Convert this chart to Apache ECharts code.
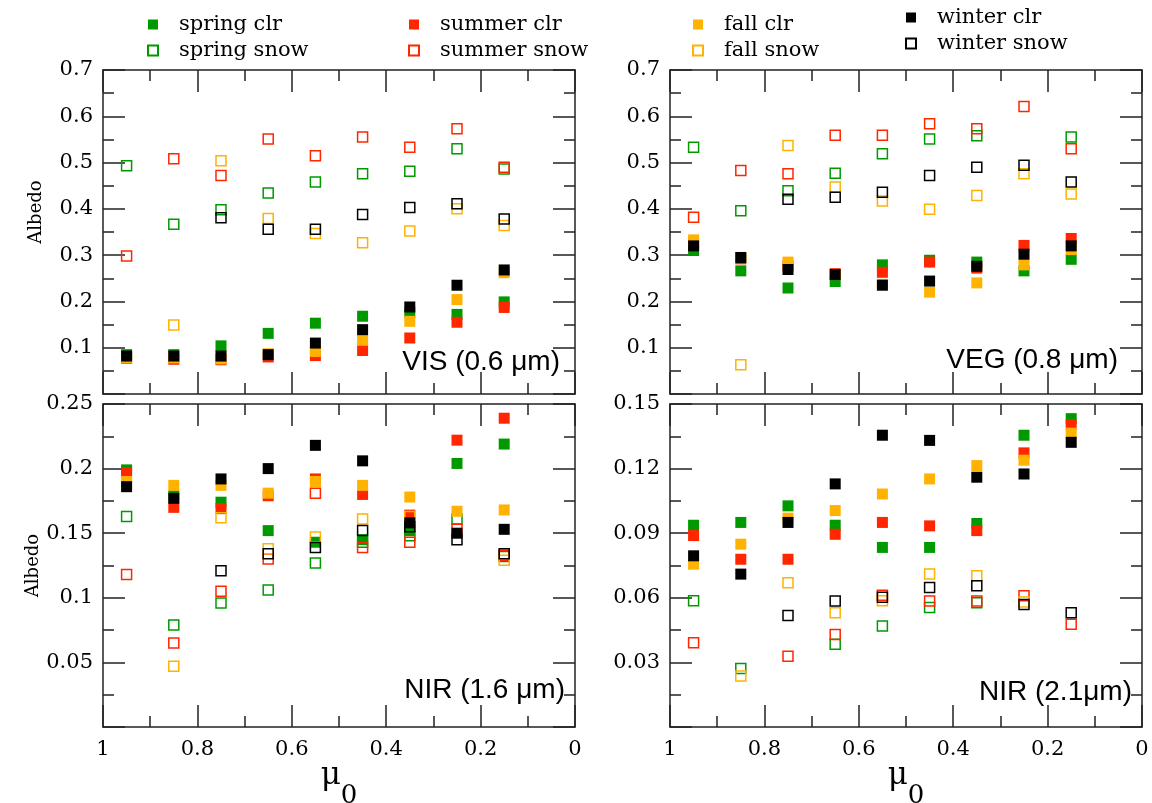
<!DOCTYPE html>
<html>
<head>
<meta charset="utf-8">
<title>Albedo vs mu0</title>
<script src="https://cdn.jsdelivr.net/npm/echarts@6.0.0/dist/echarts.min.js"></script>
<style>
html,body{margin:0;padding:0;background:#fff}
#main{width:1152px;height:803px}
</style>
</head>
<body>
<div id="main"></div>
<script>
// cosine of solar zenith angle, one value per bin
var mu = [0.95, 0.85, 0.75, 0.65, 0.55, 0.45, 0.35, 0.25, 0.15];

// VIS (0.6 um)
var vis_spring_clr  = [0.085, 0.085, 0.104, 0.131, 0.153, 0.168, 0.176, 0.172, 0.199];
var vis_spring_snow = [0.493, 0.367, 0.398, 0.434, 0.458, 0.476, 0.481, 0.530, 0.486];
var vis_summer_clr  = [0.077, 0.075, 0.074, 0.080, 0.083, 0.094, 0.121, 0.155, 0.187];
var vis_summer_snow = [0.298, 0.508, 0.472, 0.551, 0.515, 0.555, 0.533, 0.573, 0.490];
var vis_fall_clr    = [0.078, 0.078, 0.076, 0.087, 0.092, 0.116, 0.157, 0.204, 0.262];
var vis_fall_snow   = [null, 0.149, 0.504, 0.379, 0.347, 0.327, 0.352, 0.400, 0.364];
var vis_winter_clr  = [0.082, 0.082, 0.082, 0.085, 0.110, 0.139, 0.188, 0.235, 0.268];
var vis_winter_snow = [null, null, 0.381, 0.356, 0.356, 0.388, 0.403, 0.411, 0.378];

// VEG (0.8 um)
var veg_spring_clr  = [0.310, 0.266, 0.229, 0.243, 0.279, 0.289, 0.285, 0.266, 0.291];
var veg_spring_snow = [0.533, 0.396, 0.439, 0.477, 0.519, 0.551, 0.558, null, 0.555];
var veg_summer_clr  = [0.326, 0.292, 0.277, 0.260, 0.263, 0.285, 0.272, 0.321, 0.336];
var veg_summer_snow = [0.382, 0.483, 0.476, 0.559, 0.559, 0.584, 0.573, 0.621, 0.530];
var veg_fall_clr    = [0.333, 0.295, 0.285, 0.258, 0.237, 0.220, 0.240, 0.279, 0.312];
var veg_fall_snow   = [null, 0.063, 0.537, 0.447, 0.417, 0.399, 0.429, 0.476, 0.432];
var veg_winter_clr  = [0.320, 0.295, 0.269, 0.258, 0.235, 0.244, 0.276, 0.302, 0.320];
var veg_winter_snow = [null, null, 0.421, 0.425, 0.436, 0.472, 0.490, 0.494, 0.458];

// NIR (1.6 um)
var nir16_spring_clr  = [0.199, 0.179, 0.174, 0.152, 0.143, 0.145, 0.152, 0.204, 0.219];
var nir16_spring_snow = [0.163, 0.079, 0.096, 0.106, 0.127, 0.143, 0.148, 0.161, 0.132];
var nir16_summer_clr  = [0.197, 0.170, 0.169, 0.179, 0.192, 0.180, 0.164, 0.222, 0.239];
var nir16_summer_snow = [0.118, 0.065, 0.105, 0.130, 0.181, 0.139, 0.143, 0.153, 0.133];
var nir16_fall_clr    = [0.190, 0.187, 0.187, 0.181, 0.190, 0.187, 0.178, 0.167, 0.168];
var nir16_fall_snow   = [null, 0.047, 0.162, 0.138, 0.147, 0.161, 0.163, null, 0.129];
var nir16_winter_clr  = [0.186, 0.177, 0.192, 0.200, 0.218, 0.206, 0.158, 0.150, 0.153];
var nir16_winter_snow = [null, null, 0.121, 0.134, 0.139, 0.152, 0.155, 0.145, 0.134];

// NIR (2.1 um)
var nir21_spring_clr  = [0.0937, 0.0950, 0.1027, 0.0937, 0.0834, 0.0834, 0.0945, 0.1355, 0.1432];
var nir21_spring_snow = [0.0586, 0.0272, null, 0.0384, 0.0469, 0.0555, 0.0577, null, null];
var nir21_summer_clr  = [0.0889, 0.0779, 0.0779, 0.0895, 0.0950, 0.0934, 0.0912, 0.1273, 0.1404];
var nir21_summer_snow = [0.0391, null, 0.0328, 0.0430, 0.0612, 0.0585, 0.0585, 0.0609, 0.0477];
var nir21_fall_clr    = [0.0756, 0.0849, 0.0970, 0.1005, 0.1082, 0.1152, 0.1214, 0.1239, 0.1365];
var nir21_fall_snow   = [null, 0.0237, 0.0670, 0.0530, 0.0586, 0.0710, 0.0702, 0.0580, null];
var nir21_winter_clr  = [0.0795, 0.0710, 0.0950, 0.1129, 0.1355, 0.1331, 0.1160, 0.1175, 0.1322];
var nir21_winter_snow = [null, null, 0.0518, 0.0585, 0.0602, 0.0648, 0.0656, 0.0569, 0.0531];

var seriesNames = ['spring clr', 'spring snow', 'summer clr', 'summer snow',
                   'fall clr', 'fall snow', 'winter clr', 'winter snow'];
var seasonColors = ['#009a00', '#ff2600', '#ffb300', '#000000'];
var panelLabels = ['VIS (0.6 \u03bcm)', 'VEG (0.8 \u03bcm)', 'NIR (1.6 \u03bcm)', 'NIR (2.1\u03bcm)'];
var yMax = [0.7, 0.7, 0.25, 0.15];
var yStep = [0.1, 0.1, 0.05, 0.03];

var panelData = [
    [vis_spring_clr, vis_spring_snow, vis_summer_clr, vis_summer_snow, vis_fall_clr, vis_fall_snow, vis_winter_clr, vis_winter_snow],
    [veg_spring_clr, veg_spring_snow, veg_summer_clr, veg_summer_snow, veg_fall_clr, veg_fall_snow, veg_winter_clr, veg_winter_snow],
    [nir16_spring_clr, nir16_spring_snow, nir16_summer_clr, nir16_summer_snow, nir16_fall_clr, nir16_fall_snow, nir16_winter_clr, nir16_winter_snow],
    [nir21_spring_clr, nir21_spring_snow, nir21_summer_clr, nir21_summer_snow, nir21_fall_clr, nir21_fall_snow, nir21_winter_clr, nir21_winter_snow]
];

var grids = [
    {left: 103, top: 70,  width: 472, height: 324},
    {left: 670, top: 70,  width: 472, height: 324},
    {left: 103, top: 404, width: 472, height: 323},
    {left: 670, top: 404, width: 472, height: 323}
];

var lineCol = '#222';
var serif = 'DejaVu Serif';

function xAxisOf(g, pos) {
    var withLabels = (pos === 'bottom' && g >= 2);
    return {
        type: 'value', gridIndex: g, position: pos,
        min: 0, max: 1, interval: 0.2, inverse: true,
        axisLine: {show: true, onZero: false, lineStyle: {color: lineCol, width: 1.5}},
        axisTick: {show: true, inside: true, length: 22, lineStyle: {color: lineCol, width: 1.5}},
        minorTick: {show: true, splitNumber: 2, length: 11, lineStyle: {color: lineCol, width: 1.5}},
        splitLine: {show: false},
        minorSplitLine: {show: false},
        axisLabel: {show: withLabels, margin: 12, color: '#000', fontFamily: serif, fontSize: 21},
        name: withLabels ? '{m|\u03bc}{s|0}' : '',
        nameLocation: 'middle',
        nameGap: 8,
        nameTextStyle: {
            rich: {
                m: {fontFamily: serif, fontSize: 31, color: '#000'},
                s: {fontFamily: serif, fontSize: 26, color: '#000', padding: [40, 0, 0, 0]}
            }
        }
    };
}

function yAxisOf(g, pos) {
    var left = pos === 'left';
    var ax = {
        type: 'value', gridIndex: g, position: pos,
        min: 0, max: yMax[g], interval: yStep[g],
        axisLine: {show: true, onZero: false, lineStyle: {color: lineCol, width: 1.5}},
        axisTick: {show: true, inside: true, length: 22, lineStyle: {color: lineCol, width: 1.5}},
        minorTick: {show: true, splitNumber: 2, length: 11, lineStyle: {color: lineCol, width: 1.5}},
        splitLine: {show: false},
        minorSplitLine: {show: false},
        axisLabel: {show: left, showMinLabel: false, margin: 10, color: '#000', fontFamily: serif, fontSize: 21}
    };
    if (left && (g === 0 || g === 2)) {
        ax.name = 'Albedo';
        ax.nameLocation = 'middle';
        ax.nameRotate = 90;
        ax.nameGap = 58;
        ax.nameTextStyle = {fontFamily: serif, fontSize: 18, color: '#000',
            padding: g === 0 ? [0, 0, 0, 40] : [0, 0, 0, 0]};
    }
    return ax;
}

var xAxes = [], yAxes = [], series = [], graphics = [];
for (var g = 0; g < 4; g++) {
    xAxes.push(xAxisOf(g, 'bottom'));
    xAxes.push(xAxisOf(g, 'top'));
    yAxes.push(yAxisOf(g, 'left'));
    yAxes.push(yAxisOf(g, 'right'));
    for (var k = 0; k < 8; k++) {
        var hollow = (k % 2 === 1);
        var col = seasonColors[Math.floor(k / 2)];
        var vals = panelData[g][k];
        var pts = [];
        for (var i = 0; i < mu.length; i++) {
            if (vals[i] !== null) pts.push([mu[i], vals[i]]);
        }
        series.push({
            type: 'scatter',
            name: seriesNames[k],
            xAxisIndex: g * 2,
            yAxisIndex: g * 2,
            symbol: 'rect',
            symbolSize: hollow ? 10 : 11,
            itemStyle: {
                color: hollow ? 'rgba(255,255,255,0)' : col,
                borderColor: col,
                borderWidth: hollow ? 1.5 : 0,
                opacity: 1
            },
            emphasis: {disabled: true},
            silent: true,
            data: pts
        });
    }
}

// panel labels, bottom right inside each panel
var labelPos = [[560, 362], [1118, 360], [565, 690], [1132, 692]];
for (var p = 0; p < 4; p++) {
    graphics.push({
        type: 'text',
        x: labelPos[p][0], y: labelPos[p][1],
        style: {
            text: panelLabels[p], fill: '#000',
            font: '28px "Liberation Sans", Arial, sans-serif',
            align: 'right', verticalAlign: 'middle'
        }
    });
}

function legendCol(left, top, names) {
    return {
        orient: 'vertical', left: left, top: top,
        itemWidth: 10, itemHeight: 10, itemGap: 5,
        selectedMode: false,
        textStyle: {fontFamily: serif, fontSize: 21, color: '#000', padding: [0, 0, 0, 16]},
        data: names.map(function (n) { return {name: n, icon: 'rect'}; })
    };
}

var chart = echarts.init(document.getElementById('main'), null, {renderer: 'canvas'});
chart.setOption({
    animation: false,
    backgroundColor: '#fff',
    legend: [
        legendCol(142, 9, ['spring clr', 'spring snow']),
        legendCol(403, 9, ['summer clr', 'summer snow']),
        legendCol(687, 9, ['fall clr', 'fall snow']),
        legendCol(900, 2, ['winter clr', 'winter snow'])
    ],
    grid: grids.map(function (r) {
        return {left: r.left, top: r.top, width: r.width, height: r.height,
                containLabel: false, outerBoundsMode: 'none'};
    }),
    xAxis: xAxes,
    yAxis: yAxes,
    series: series,
    graphic: graphics
});
</script>
</body>
</html>
